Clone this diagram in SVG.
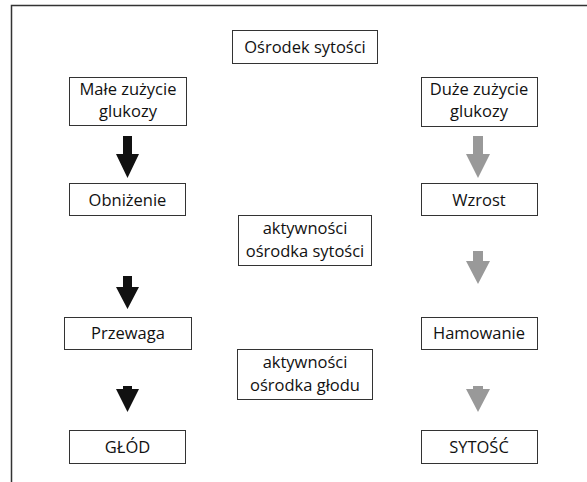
<svg xmlns="http://www.w3.org/2000/svg" width="587" height="482" viewBox="0 0 587 482">
<style>
.box{fill:#fff;stroke:#333;stroke-width:1}
.t{font-family:"Open Sans","Noto Sans","Liberation Sans",sans-serif;font-size:16.5px;fill:#111;text-anchor:middle}
.blk{fill:#111}
.gry{fill:#999}
</style>
<rect width="587" height="482" fill="#fff"/>
<path d="M11.5 482V5.5H587" fill="none" stroke="#333" stroke-width="1.5"/>
<g id="n-osrodek"><rect class="box" x="232.5" y="30.5" width="145" height="33"/><text class="t" x="305" y="53">Ośrodek sytości</text></g>
<g id="n-male"><rect class="box" x="69.5" y="77.5" width="117" height="48"/><text class="t" x="128" y="94.5">Małe zużycie</text><text class="t" x="128" y="117">glukozy</text></g>
<g id="n-duze"><rect class="box" x="421.5" y="77.5" width="116" height="49"/><text class="t" x="479" y="94.5">Duże zużycie</text><text class="t" x="479" y="117">glukozy</text></g>
<g id="n-obnizenie"><rect class="box" x="69.5" y="183.5" width="116" height="32"/><text class="t" x="127.5" y="206">Obniżenie</text></g>
<g id="n-wzrost"><rect class="box" x="421.5" y="183.5" width="116" height="32"/><text class="t" x="479" y="206">Wzrost</text></g>
<g id="n-akt1"><rect class="box" x="238.5" y="215.5" width="133" height="50"/><text class="t" x="305" y="234">aktywności</text><text class="t" x="305" y="256.5">ośrodka sytości</text></g>
<g id="n-przewaga"><rect class="box" x="64.5" y="317.5" width="127" height="32"/><text class="t" x="128" y="339">Przewaga</text></g>
<g id="n-hamowanie"><rect class="box" x="421.5" y="317.5" width="116" height="32"/><text class="t" x="479" y="339">Hamowanie</text></g>
<g id="n-akt2"><rect class="box" x="237.5" y="349.5" width="135" height="50"/><text class="t" x="305" y="368">aktywności</text><text class="t" x="305" y="390.5">ośrodka głodu</text></g>
<g id="n-glod"><rect class="box" x="69.5" y="430.5" width="116" height="33"/><text class="t" x="127.5" y="453">GŁÓD</text></g>
<g id="n-sytosc"><rect class="box" x="421.5" y="430.5" width="116" height="33"/><text class="t" x="479" y="453">SYTOŚĆ</text></g>
<g id="connectors">
<polygon class="blk" points="123,136 132,136 132,154 139,154 127.5,178 116,154 123,154"/>
<polygon class="gry" points="473,136 483,136 483,154 490,154 478,178 466,154 473,154"/>
<polygon class="blk" points="123,276 132,276 132,287 139,287 127.5,309 116,287 123,287"/>
<polygon class="gry" points="473,251 483,251 483,261 490,261 478,284 466,261 473,261"/>
<polygon class="blk" points="123,386 132,386 132,389 139,389 127.5,412 116,389 123,389"/>
<polygon class="gry" points="473,386 483,386 483,389 490,389 478,412 466,389 473,389"/>
</g>
</svg>
